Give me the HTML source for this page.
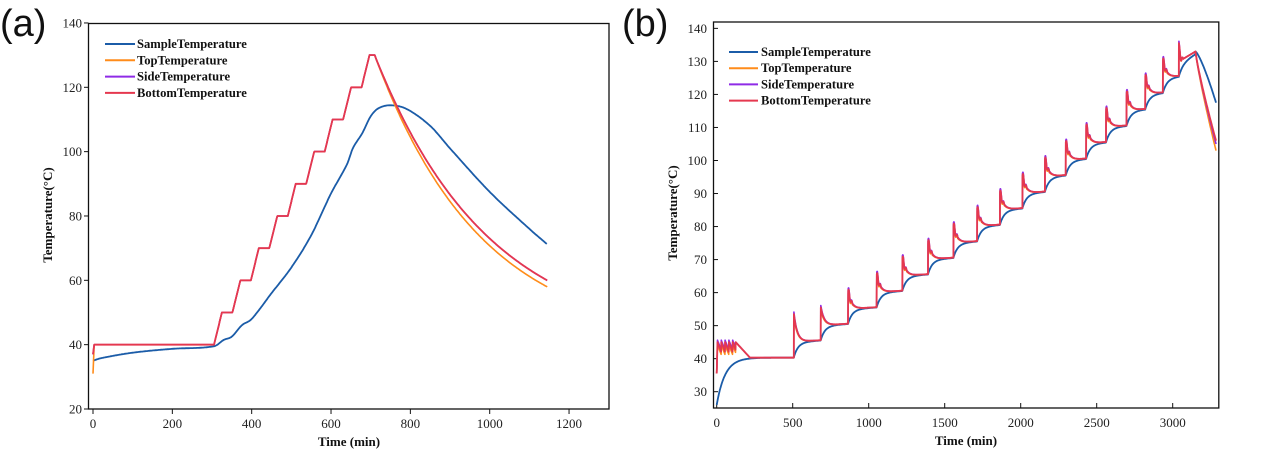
<!DOCTYPE html>
<html><head><meta charset="utf-8">
<style>
html,body{margin:0;padding:0;background:#fff;width:1280px;height:468px;overflow:hidden}
svg{display:block}
.t{font-family:"Liberation Serif",serif;font-size:13px;fill:#222}
.b{font-family:"Liberation Serif",serif;font-size:13px;font-weight:bold;fill:#111}
.l{font-family:"Liberation Serif",serif;font-size:12.6px;font-weight:bold;fill:#111}
.p{font-family:"Liberation Sans",sans-serif;font-size:38px;fill:#111}
</style></head><body>
<svg id="s" width="1280" height="468" xmlns="http://www.w3.org/2000/svg">
<text class="p" x="0" y="36">(a)</text>
<text class="p" x="622" y="36">(b)</text>
</svg>
<script>
var S=document.getElementById('s'),NS='http://www.w3.org/2000/svg';
function el(t,a,txt){var e=document.createElementNS(NS,t);for(var k in a)e.setAttribute(k,a[k]);if(txt!=null)e.textContent=txt;S.appendChild(e);return e;}
var C={s:'#1b5ca8',t:'#ff8c1a',d:'#8f2be6',b:'#e5384f'};
function path(pts,fx,fy,col,w){var d='';pts.forEach(function(p,i){d+=(i?'L':'M')+fx(p[0]).toFixed(1)+' '+fy(p[1]).toFixed(1);});el('path',{d:d,fill:'none',stroke:col,'stroke-width':w||1.6,'stroke-linejoin':'round'});}
function interp(k,t){for(var i=1;i<k.length;i++)if(t<=k[i][0]){var p0=k[Math.max(i-2,0)],a=k[i-1],b=k[i],p3=k[Math.min(i+1,k.length-1)];var u=(t-a[0])/(b[0]-a[0]);
 var m1=(b[1]-p0[1])/(b[0]-p0[0])*(b[0]-a[0]),m2=(p3[1]-a[1])/(p3[0]-a[0])*(b[0]-a[0]);
 var u2=u*u,u3=u2*u;return (2*u3-3*u2+1)*a[1]+(u3-2*u2+u)*m1+(-2*u3+3*u2)*b[1]+(u3-u2)*m2;}return k[k.length-1][1];}

// ---------- Chart A ----------
(function(){
var fx=function(t){return 93+t*0.3967},fy=function(v){return 409-(v-20)*3.217};
el('rect',{x:88.5,y:23.5,width:520.5,height:385.5,fill:'none',stroke:'#111','stroke-width':1.3});
for(var v=20;v<=140;v+=20){var y=fy(v);el('line',{x1:84,y1:y,x2:88.5,y2:y,stroke:'#111'});el('text',{class:'t',x:82,y:y+4.5,'text-anchor':'end'},v);}
for(var t=0;t<=1200;t+=200){var x=fx(t);el('line',{x1:x,y1:409,x2:x,y2:414,stroke:'#111'});el('text',{class:'t',x:x,y:428,'text-anchor':'middle'},t);}
el('text',{class:'b',x:349,y:446,'text-anchor':'middle'},'Time (min)');
el('text',{class:'b',transform:'translate(52,215) rotate(-90)','text-anchor':'middle'},'Temperature(°C)');
function base(t){
 if(t<3)return 37+t;
 if(t<305)return 40;
 if(t>=710)return null;
 var k=(t-305)/46.5,n=Math.floor(k),f=(k-n)*46.5,L=40+10*n;
 var v=f<20?L+10*f/20:L+10; return Math.min(v,130);
}
var B=[],T=[],D=[],Sm=[];
for(var t=0;t<=1145;t+=1){
 var b=base(t),tp,sd;
 if(b===null){b=40+90*Math.exp(-(t-710)/289);tp=40+90*Math.exp(-(t-710)/270);sd=b;}else{tp=b;sd=b;}
 B.push([t,b]);T.push([t,t<3?31+3*t:tp]);D.push([t,sd]);
}
var ks=[[0,35],[20,35.8],[100,37.5],[200,38.7],[305,39.5],[330,41.5],[350,42.5],[375,46],[400,48],[450,56],[500,64],[550,74],[600,87],[640,96],[655,101],[680,106],[700,111],[720,113.5],[750,114.4],[790,113.3],[850,108],[900,101],[1000,87.5],[1100,76],[1145,71.2]];
for(var t=0;t<=1145;t+=2)Sm.push([t,interp(ks,t)]);
path(Sm,fx,fy,C.s,1.8);path(T,fx,fy,C.t,1.6);path(D,fx,fy,C.d,1.6);path(B,fx,fy,C.b,1.8);
var lg=[['SampleTemperature',C.s],['TopTemperature',C.t],['SideTemperature',C.d],['BottomTemperature',C.b]];
lg.forEach(function(l,i){var y=44+i*16.3;el('line',{x1:105,y1:y,x2:135,y2:y,stroke:l[1],'stroke-width':2});el('text',{class:'l',x:137,y:y+4},l[0]);});
})();

// ---------- Chart B ----------
(function(){
var fx=function(t){return 716.7+t*0.152},fy=function(v){return 391.7-(v-30)*3.303};
el('rect',{x:713.5,y:22,width:505.3,height:386,fill:'none',stroke:'#111','stroke-width':1.3});
for(var v=30;v<=140;v+=10){var y=fy(v);el('line',{x1:713.5,y1:y,x2:718,y2:y,stroke:'#111'});el('text',{class:'t',x:707,y:y+4.5,'text-anchor':'end'},v);}
for(var t=0;t<=3000;t+=500){var x=fx(t);el('line',{x1:x,y1:408,x2:x,y2:403,stroke:'#111'});el('text',{class:'t',x:x,y:427,'text-anchor':'middle'},t);}
el('text',{class:'b',x:966,y:445,'text-anchor':'middle'},'Time (min)');
el('text',{class:'b',transform:'translate(677,213) rotate(-90)','text-anchor':'middle'},'Temperature(°C)');
var st=[508,685,865,1053,1222,1391,1558,1714,1864,2012,2160,2297,2431,2562,2697,2820,2936,3041];
function bot(t,off){
 if(t<5)return 35.5+t*1.9;
 if(t<125){var z=((t-5)%25);return 45-3*(z/25)+off;}
 if(t<508)return Math.max(40.3,45-(t-125)/20);
 if(t>=3150)return null;
 var i=0;while(i+1<st.length&&t>=st[i+1])i++;
 var ts=st[i],L=45+5*i,nx=(i+1<st.length?st[i+1]:3150);
 var bs=L+((t-ts)/(nx-ts))*(i==17?3:0.6);
 var A=(i==0?8.5:5.5)+off;
 var sp=A*Math.exp(-(t-ts)/(i==17?6:22));
 if(i>1&&t-ts<30)sp+=1.5*Math.sin((t-ts)/3)*Math.exp(-(t-ts)/20);
 return bs+sp;
}
var B=[],T=[],D=[],Sm=[],s=26;
for(var t=0;t<=3285;t+=1){
 var b=bot(t,0),tp,sd;
 if(b===null){var u=(t-3150)/135;b=133-27*Math.pow(u,0.85);tp=133-30*Math.pow(u,0.85);sd=133-28*Math.pow(u,0.85);}
 else{tp=bot(t,-0.8);sd=bot(t,0.6);}
 B.push([t,b]);T.push([t,tp]);D.push([t,sd]);
 if(t<508)s=40.3-14.3*Math.exp(-t/55);
 else if(t<3150){var i=0;while(i+1<st.length&&t>=st[i+1])i++;var ts=st[i],nx=(i+1<st.length?st[i+1]:3150),L=45+5*i;var bs=L+((t-ts)/(nx-ts))*(i==17?3:0.6);s=s+(bs-s)/28;}
 else{var u=(t-3150)/135;s=133-15.5*Math.pow(u,1.3);}
 Sm.push([t,s]);
}
path(Sm,fx,fy,C.s,1.8);path(T,fx,fy,C.t,1.6);path(D,fx,fy,C.d,1.6);path(B,fx,fy,C.b,1.8);
var lg=[['SampleTemperature',C.s],['TopTemperature',C.t],['SideTemperature',C.d],['BottomTemperature',C.b]];
lg.forEach(function(l,i){var y=52+i*16.2;el('line',{x1:729,y1:y,x2:758,y2:y,stroke:l[1],'stroke-width':2});el('text',{class:'l',x:761,y:y+4},l[0]);});
})();
</script>
</body></html>
